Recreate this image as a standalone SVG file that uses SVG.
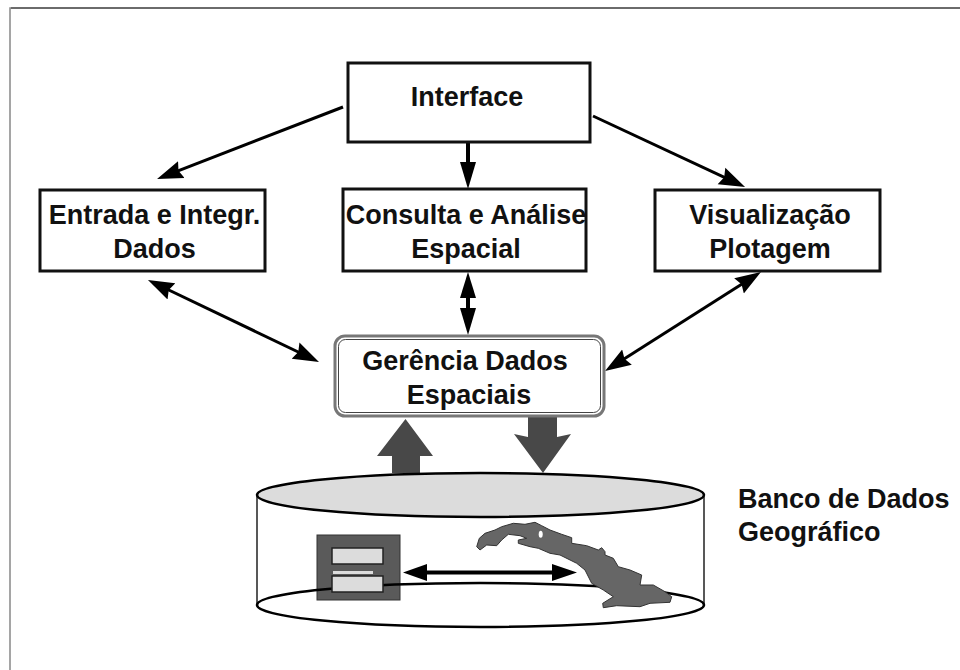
<svg xmlns="http://www.w3.org/2000/svg" width="960" height="670" viewBox="0 0 960 670">
<style>
text{font-family:"Liberation Sans",Arial,sans-serif;font-weight:bold;font-size:27px;fill:#111;text-anchor:middle}
.st{text-anchor:start}
.box{fill:#fff;stroke:#111;stroke-width:3}
.l{fill:none;stroke:#000;stroke-width:3}
.h{fill:#000;stroke:none}
.big{fill:#484848;stroke:none}
.lite{fill:#dcdcdc;stroke:#222;stroke-width:1.500}
</style>
<defs>
<marker id="a" markerUnits="userSpaceOnUse" markerWidth="30" markerHeight="22" refX="18" refY="11" orient="auto-start-reverse"><path class="h" d="M0 2L26 11L0 20L3 11Z"/></marker>
</defs>
<rect width="960" height="670" fill="#fff"/>
<path d="M10 670V8H960" fill="none" stroke="#888" stroke-width="1.500"/>
<path d="M11 8H960" stroke="#333" stroke-width="1"/>
<g id="connectors">
<path class="l" d="M343 107L164.500 176.100" marker-end="url(#a)"/>
<path class="l" d="M468 142V170" style="stroke-width:4"/>
<path class="h" d="M460 162H476L468 189Z"/>
<path class="l" d="M593 116L737.800 183.600" marker-end="url(#a)"/>
<path class="l" d="M155.200 283.500L311.800 358.500" marker-start="url(#a)" marker-end="url(#a)"/>
<path class="l" d="M468 290V318" style="stroke-width:4"/>
<path class="h" d="M460 298H476L468 272Z"/><path class="h" d="M460 308H476L468 335Z"/>
<path class="l" d="M754.200 276.300L611.800 366.700" marker-start="url(#a)" marker-end="url(#a)"/>
<path class="big" d="M392 473V456H377L405.500 419L433 456H420V473Z"/>
<path class="big" d="M528 417H557V437L571 434L543 473L514 434L528 437Z"/>
</g>
<g id="interface"><rect class="box" x="348" y="63" width="242" height="79"/><text x="467" y="106">Interface</text></g>
<g id="entrada"><rect class="box" x="40" y="190" width="225" height="81"/><text x="154.500" y="224">Entrada e Integr.</text><text x="154.500" y="258">Dados</text></g>
<g id="consulta"><rect class="box" x="343" y="189" width="243" height="82"/><text x="466" y="224">Consulta e Análise</text><text x="466" y="258">Espacial</text></g>
<g id="visualizacao"><rect class="box" x="655" y="190" width="225" height="81"/><text x="770" y="224">Visualização</text><text x="770" y="258">Plotagem</text></g>
<g id="gerencia"><rect x="335" y="336" width="269" height="80" rx="10" fill="#fff" stroke="#777" stroke-width="3"/><rect x="338.500" y="339.500" width="262" height="73" rx="7" fill="none" stroke="#444" stroke-width="1"/><text x="465" y="370">Gerência Dados</text><text x="469" y="404">Espaciais</text></g>
<g id="banco">
<path d="M257 495V605M704 495V605" stroke="#222" stroke-width="1.500" fill="none"/>
<ellipse cx="480.500" cy="495" rx="223.500" ry="22" fill="#dcdcdc" stroke="#000" stroke-width="2.500"/>
<rect x="317" y="535" width="83" height="65" fill="#5a5a5a" stroke="#333" stroke-width="1"/>
<ellipse cx="480.500" cy="605" rx="223.500" ry="22" fill="none" stroke="#000" stroke-width="2.500"/>
<rect class="lite" x="332" y="548" width="51" height="16"/>
<rect x="333" y="571" width="40" height="3" fill="#dcdcdc"/>
<rect class="lite" x="332" y="576" width="51" height="16"/>
<path d="M476.700 546.700L479.300 538.300L485 533.300L495 530L501.700 526.700L513.300 523.300L525 524.300L535 522.300L541.700 525.700L550 530L561.700 534.300L571.700 537.700L571.700 543.300L586.700 545.700L598.300 550L601.700 547.700L605 551.700L605 555L613.300 558.300L618.300 566.700L630 570L641.700 575L640 585L653.300 585L665 591.700L671.700 596.700L670 602.300L650 603.300L640 606.700L616.700 605.700L603.300 607.700L602.700 603.300L613.300 596.700L603.300 590L591.700 583.300L585 570L576.700 563.300L560 555L550 553.300L538.300 548.300L530 546.700L518.300 543.300L518.300 540L526.700 538.300L520 535.700L508.300 534.300L501.700 540L496.700 545.700L486.700 545L480 550Z" fill="#666" stroke="#333" stroke-width="1"/>
<ellipse cx="540.700" cy="534.300" rx="2" ry="3.500" fill="#fff"/>
<path d="M420 572.500H560" stroke="#000" stroke-width="4"/>
<path class="h" d="M403 572.500L427 564V581Z"/><path class="h" d="M577 572.500L552 564V581Z"/>
</g>
<text class="st" x="738" y="508">Banco de Dados</text>
<text class="st" x="738" y="541">Geográfico</text>
</svg>
